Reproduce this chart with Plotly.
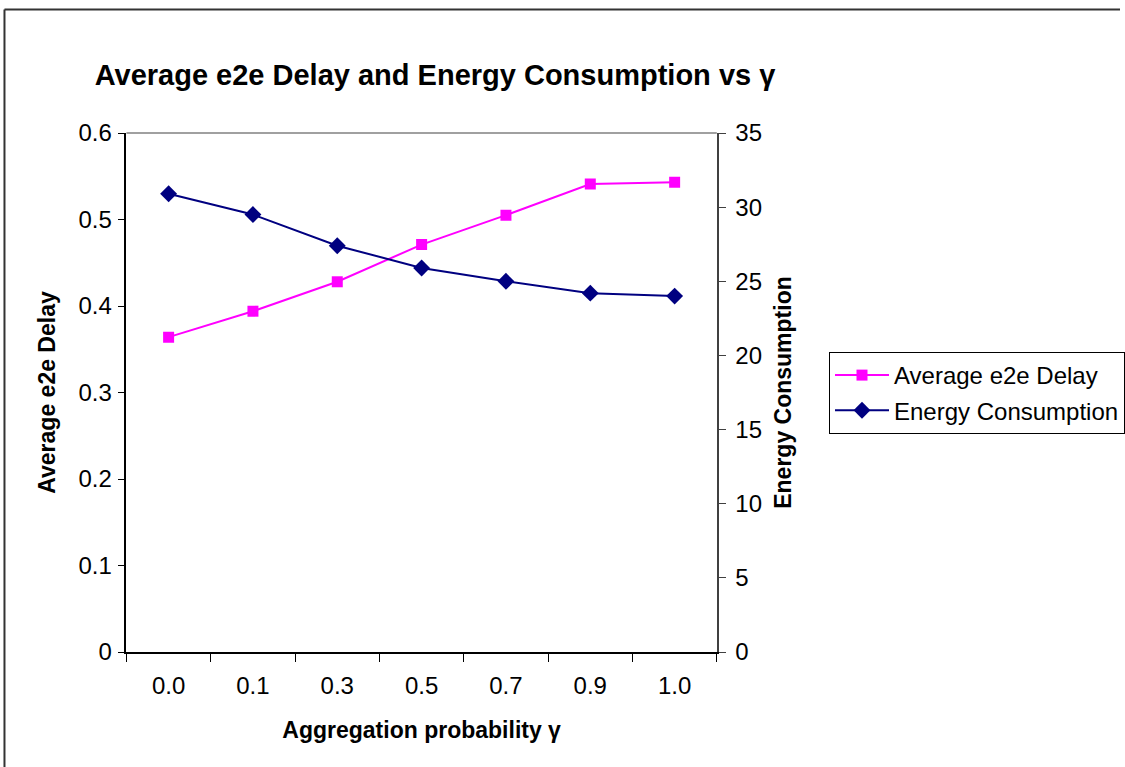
import plotly.graph_objects as go

categories = ["0.0", "0.1", "0.3", "0.5", "0.7", "0.9", "1.0"]
delay = [0.364, 0.394, 0.428, 0.471, 0.505, 0.541, 0.543]
energy = [30.9, 29.5, 27.4, 25.9, 25.0, 24.2, 24.0]
left_ticks = [0, 0.1, 0.2, 0.3, 0.4, 0.5, 0.6]
right_ticks = [0, 5, 10, 15, 20, 25, 30, 35]

W, H = 1125, 767
FONT = "Liberation Sans, Arial, sans-serif"

def px(x):
    return x / W

def py(y):
    return 1 - y / H

fig = go.Figure()
fig.add_trace(go.Scatter(
    x=categories, y=delay, name="Average e2e Delay", mode="lines+markers",
    line=dict(color="#FF00FF", width=2),
    marker=dict(symbol="square", size=11, color="#FF00FF"),
    yaxis="y", legendgroup="a"))
fig.add_trace(go.Scatter(
    x=categories, y=energy, name="Energy Consumption", mode="lines+markers",
    line=dict(color="#000080", width=2),
    marker=dict(symbol="diamond", size=13, color="#000080"),
    yaxis="y2", legendgroup="b"))

fig.update_layout(
    width=W, height=H,
    margin=dict(l=0, r=0, t=0, b=0),
    paper_bgcolor="white", plot_bgcolor="white",
    font=dict(family=FONT, size=23, color="black"),
    showlegend=True,
    title=dict(text="<b>Average e2e Delay and Energy Consumption vs γ</b>",
               x=px(435), y=py(75), xanchor="center", yanchor="middle",
               font=dict(size=29, family=FONT, color="black")),
    xaxis=dict(
        type="category", domain=[px(127), px(720)], range=[-0.5, 6.5],
        tickson="boundaries", ticks="outside", ticklen=8, tickcolor="black",
        showline=True, linecolor="black", linewidth=1.5, mirror=False,
        showgrid=False, zeroline=False, automargin=False,
        tickfont=dict(size=24), ticklabelstandoff=11,
        title=dict(text="<b>Aggregation probability γ</b>", standoff=24,
                   font=dict(size=23)),
    ),
    yaxis=dict(
        domain=[py(652), py(133)], range=[0, 0.6], tickvals=left_ticks,
        ticktext=[f"{v:g}" for v in left_ticks],
        ticks="outside", ticklen=7, tickcolor="black",
        showline=True, linecolor="black", linewidth=1.5,
        showgrid=False, zeroline=False, automargin=False,
        tickfont=dict(size=24), ticklabelstandoff=1,
        title=dict(text="<b>Average e2e Delay</b>", standoff=16,
                   font=dict(size=23)),
    ),
    yaxis2=dict(
        overlaying="y", side="right", anchor="x", range=[0, 35],
        tickvals=right_ticks,
        ticks="outside", ticklen=7, tickcolor="#404040",
        showline=True, linecolor="#404040", linewidth=1.5,
        showgrid=False, zeroline=False, automargin=False,
        tickfont=dict(size=24), ticklabelstandoff=5,
        title=dict(text="<b>Energy Consumption</b>", standoff=14,
                   font=dict(size=23)),
    ),
    legend=dict(
        x=px(833), y=py(352), xanchor="left", yanchor="top",
        bordercolor="black", borderwidth=1, bgcolor="white",
        font=dict(size=24, family=FONT), itemwidth=54,
        traceorder="grouped", tracegroupgap=1,
    ),
    shapes=[
        # plot area top border
        dict(type="line", xref="paper", yref="paper",
             x0=px(127), x1=px(720), y0=py(133), y1=py(133),
             line=dict(color="#808080", width=1.5)),
        # outer chart frame (left and top edges visible)
        dict(type="line", xref="paper", yref="paper",
             x0=px(4.5), x1=px(4.5), y0=0, y1=py(9.5),
             line=dict(color="#333333", width=2)),
        dict(type="line", xref="paper", yref="paper",
             x0=px(4.5), x1=1, y0=py(9.5), y1=py(9.5),
             line=dict(color="#333333", width=2)),
    ],
)

post = ("document.documentElement.style.overflow='hidden';"
        "document.body.style.overflow='hidden';"
        "document.body.style.margin='0';")

fig.write_html("out.html", post_script=post)
